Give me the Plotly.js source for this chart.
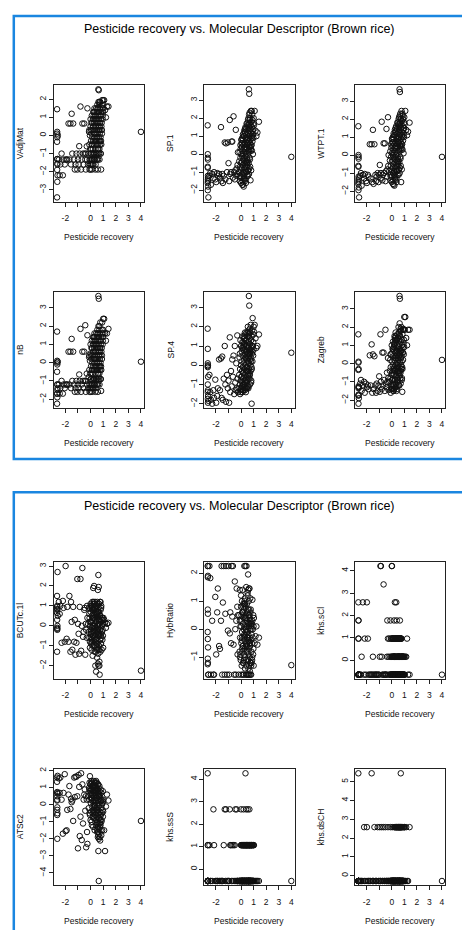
<!DOCTYPE html>
<html><head><meta charset="utf-8">
<script src="https://cdn.plot.ly/plotly-3.0.1.min.js"></script>
<style>html,body{margin:0;padding:0;background:#fff;overflow:hidden}#chart{width:462px;height:930px}</style>
</head><body><div id="chart"></div>
<script>
// Pesticide recovery (shared x for all 12 scatter plots)
const recovery = [
 -2.66,-2.65,-2.65,-2.64,-2.66,-2.65,-2.63,-2.65,-2.64,-2.66,-2.62,-2.65,-2.6,-2.64,
 -2.52,-2.45,-2.4,-2.3,-2.2,-2.15,-2.05,-1.98,-1.9,-1.85,
 -1.75,-1.68,-1.6,-1.55,-1.5,-1.45,-1.38,-1.3,-1.25,-1.2,-1.12,-1.05,-1.0,-0.95,-0.9,-0.86,-0.8,-0.75,-0.7,-0.65,-0.6,-0.55,-0.5,-0.46,-0.42,-0.38,-0.35,-0.3,-0.28,-0.25,
 -0.2,-0.15,-0.12,-0.1,-0.08,-0.05,-0.03,0.0,
 0.0,0.02,0.04,0.05,0.07,0.08,0.1,0.11,
 0.12,0.14,0.15,0.16,0.18,0.19,0.2,0.21,
 0.22,0.23,0.25,0.26,0.27,0.28,0.3,0.31,
 0.32,0.33,0.34,0.35,0.36,0.38,0.39,0.4,
 0.41,0.42,0.43,0.44,0.45,0.46,0.47,0.48,
 0.5,0.51,0.52,0.53,0.54,0.55,0.56,0.57,
 0.58,0.59,0.6,0.61,0.62,0.63,0.64,0.65,
 0.66,0.67,0.68,0.69,0.7,0.71,0.72,0.73,
 0.74,0.75,0.76,0.77,0.78,0.8,0.81,0.82,
 0.84,0.85,0.86,0.88,0.9,0.92,0.94,0.96,
 0.97,0.98,0.99,1.0,0.62,0.65,0.58,0.7,
 1.02,1.08,1.15,1.22,1.3,1.42,
 4.0,
 -0.1,-0.05,0.0,0.05,0.1,0.15,0.2,0.25,
 0.3,0.35,0.4,0.45,0.5,0.55,0.6,0.65,
 0.7,0.75,0.8,0.85,0.9,-0.08,0.03,0.12,
 0.18,0.24,0.33,0.42,0.52,0.61,0.72,0.83,
 0.07,0.28,0.47,0.68,0.88,0.14,0.37,0.57,
 0.02,0.22,0.44,0.63,0.79,0.09,0.31,0.5
];

const VAdjMat = [
 1.45,0.2,0.1,-0.1,-0.35,-1.3,-1.6,-1.9,-2.56,-3.42,-2.2,-1.55,0.0,-1.3,
 -1.33,-2.2,-1.6,-1.0,-2.2,-1.33,-1.6,-1.33,-1.33,-1.33,
 0.66,-1.33,0.66,-1.6,1.2,-1.0,0.66,-1.33,-1.88,-1.6,-1.0,-1.88,-1.33,-1.6,-0.59,-1.0,1.6,-1.88,-1.33,0.66,-1.0,-1.6,0.66,-1.0,-1.33,-1.88,-1.0,-0.6,-1.33,1.5,
 -1.6,-1.0,0.2,-0.5,-1.33,0.0,-0.75,0.5,
 -1.88,-1.33,-0.3,0.3,-1.0,0.1,-0.5,-1.6,
 0.7,-0.1,-1.33,0.3,-0.75,0.9,-1.0,-0.3,
 0.5,-1.6,1.1,-0.5,0.1,-1.33,0.7,-0.1,
 1.3,-1.0,0.3,-0.3,0.9,-1.88,0.5,-0.75,
 1.1,-0.5,0.1,1.5,-1.0,0.7,-0.1,0.3,
 1.3,-1.33,0.9,-0.3,1.7,0.5,-0.75,0.1,
 1.5,-1.0,0.7,1.1,-0.5,1.85,0.3,-0.1,
 0.9,1.3,-0.3,0.5,1.7,-1.33,1.1,0.1,
 1.5,0.7,-0.5,1.85,0.3,1.1,-1.0,0.9,
 -1.88,1.3,0.5,1.7,0.1,1.95,1.5,0.9,
 1.1,1.7,1.3,1.95,2.55,2.5,-1.88,1.85,
 1.5,1.95,1.4,1.0,1.6,1.6,
 0.2,
 0.3,-1.6,0.9,-0.75,1.1,-1.33,0.5,1.3,
 -1.33,0.1,-1.6,0.9,-1.0,-0.5,-1.33,0.3,
 -0.75,-0.3,-1.0,-0.5,0.3,-1.88,-1.6,-1.88,
 -1.6,0.9,-1.33,0.5,-0.1,-0.75,0.5,-0.3,
 0.7,-1.0,-1.33,-1.0,0.7,-0.5,1.1,1.5,
 -1.0,1.3,-0.3,1.3,-0.1,-1.33,1.5,-0.5
];

const SP_1 = [
 1.6,0.0,-0.2,-0.3,-0.7,-0.75,-1.3,-1.4,-1.5,-1.6,-1.8,-2.0,-2.4,-1.2,
 -1.2,-1.05,-1.7,-1.1,-1.35,-1.0,-1.4,-1.55,-1.05,-1.2,
 -1.1,-1.3,1.5,-1.5,-1.1,-1.6,-1.2,0.65,-1.4,0.6,-1.0,0.65,-0.5,-1.5,1.9,-1.1,-1.0,0.7,0.7,-1.3,2.1,-1.0,-1.4,-0.9,1.35,-1.2,-0.8,-1.1,-0.6,0.1,
 -1.0,-0.4,0.1,-1.2,-0.7,-0.2,0.3,-0.9,
 -0.5,0.0,-1.3,0.4,-0.8,-0.1,0.6,-1.1,
 0.2,-0.6,-1.7,0.8,-0.3,-1.0,0.5,-1.8,
 1.0,-0.2,-0.8,0.3,-1.4,0.6,-0.5,0.1,
 1.2,-0.9,0.4,-0.1,0.9,-1.6,0.7,-0.4,
 1.4,0.0,-0.7,1.1,0.3,-1.2,0.8,0.5,
 1.6,-0.3,0.6,1.2,-0.9,1.9,0.2,0.9,
 1.3,2.0,-0.5,0.7,1.5,0.1,2.2,1.0,
 0.4,1.7,2.3,-0.2,1.1,0.6,1.4,2.0,
 0.8,-1.45,1.6,0.3,2.4,1.2,0.5,1.8,
 1.0,2.4,0.2,1.5,0.7,1.3,0.0,1.1,
 1.4,0.9,1.7,2.0,3.6,3.35,-0.9,1.9,
 1.6,2.4,1.3,1.0,1.2,1.8,
 -0.15,
 -1.5,0.5,-1.6,0.8,-1.7,1.1,-1.2,1.3,
 -1.5,1.5,-1.0,-0.5,1.7,-1.2,0.2,-0.8,
 -0.3,0.4,-0.9,0.9,1.9,-1.3,0.6,-1.5,
 1.0,-1.3,0.3,-1.0,-0.4,1.6,-0.7,0.5,
 -0.4,1.2,-0.2,1.0,2.2,0.0,-1.4,0.6,
 0.8,-1.0,1.7,-1.1,0.2,0.9,1.4,-0.6
];

const WTPT_1 = [
 1.6,0.0,-0.1,-0.2,-0.6,-0.65,-1.3,-1.4,-1.5,-1.6,-1.8,-1.95,-2.35,-1.2,
 -1.15,-1.0,-1.7,-1.1,-1.3,-1.05,-1.45,-1.55,-1.1,-1.2,
 0.6,-1.3,0.6,-1.5,1.4,-1.6,0.6,-1.1,-1.45,-1.2,-1.0,-1.5,-1.1,-0.55,-1.3,-1.0,1.85,-1.4,-1.1,0.65,-1.0,0.65,-1.45,-0.9,1.45,-1.2,-0.8,2.1,-0.6,0.0,
 -0.9,-0.3,0.2,-1.1,-0.6,-0.1,0.4,-0.8,
 -0.4,0.1,-1.2,0.5,-0.7,0.0,0.7,-1.0,
 0.3,-0.5,-1.65,0.9,-0.2,-0.9,0.6,-1.7,
 1.1,-0.1,-0.7,0.4,-1.3,0.7,-0.4,0.2,
 1.3,-0.8,0.5,0.0,1.0,-1.5,0.8,-0.3,
 1.45,0.1,-0.6,1.2,0.4,-1.1,0.9,0.6,
 1.7,-0.2,0.7,1.3,-0.8,2.0,0.3,1.0,
 1.4,2.1,-0.4,0.8,1.6,0.2,2.2,1.1,
 0.5,1.8,2.3,-0.1,1.2,0.7,1.5,2.0,
 0.9,-1.5,1.7,0.4,2.45,1.3,0.6,1.9,
 1.1,2.3,0.3,1.6,0.8,1.4,0.1,1.2,
 1.5,1.0,1.8,2.1,3.65,3.5,-0.8,2.0,
 1.7,2.45,1.4,1.1,1.3,1.8,
 -0.1,
 -1.4,0.6,-1.5,0.9,-1.6,1.2,-1.1,1.4,
 -1.4,1.6,-0.9,-0.4,1.8,-1.1,0.3,-0.7,
 -0.2,0.5,-0.8,1.0,2.0,-1.2,0.7,-1.4,
 1.1,-1.2,0.4,-0.9,-0.3,1.7,-0.6,0.6,
 -0.3,1.3,-0.1,1.1,2.2,0.1,-1.3,0.7,
 0.9,-0.9,1.8,-1.0,0.3,1.0,1.5,-0.5
];

const nB = [
 1.7,0.1,0.0,-0.1,-0.5,-1.2,-1.5,-1.7,-1.9,-2.25,-1.4,-1.7,0.05,-1.2,
 -1.2,-1.7,-1.4,-1.0,-1.7,-1.2,-1.4,-1.2,-1.2,-1.2,
 0.6,-1.2,0.6,-1.4,1.3,-1.0,0.6,-1.2,-1.6,-1.4,-1.0,-1.6,-1.2,-1.4,-0.65,-1.0,1.85,-1.6,-1.2,0.6,-1.0,-1.4,0.6,-1.0,2.05,-1.6,-1.0,-0.6,-1.2,1.5,
 -1.4,-0.8,0.3,-0.4,-1.2,0.1,-0.6,0.5,
 -1.6,-1.2,-0.2,0.4,-0.9,0.2,-0.4,-1.4,
 0.8,0.0,-1.2,0.4,-0.6,1.0,-0.9,-0.2,
 0.6,-1.4,1.2,-0.4,0.2,-1.2,0.8,0.0,
 1.4,-0.9,0.4,-0.2,1.0,-1.6,0.6,-0.6,
 1.2,-0.4,0.2,1.6,-0.9,0.8,0.0,0.4,
 1.4,-1.2,1.0,-0.2,1.8,0.6,-0.6,0.2,
 1.6,-0.9,0.8,1.2,-0.4,2.0,0.4,0.0,
 1.0,1.4,-0.2,0.6,1.8,-1.2,1.2,0.2,
 1.6,0.8,-0.4,2.2,0.4,1.2,-0.9,1.0,
 -1.55,1.4,0.6,1.8,0.2,2.2,1.6,1.0,
 1.2,1.8,1.4,2.4,3.65,3.5,-1.6,2.0,
 1.6,2.4,1.6,1.2,1.6,1.85,
 0.05,
 0.4,-1.4,1.0,-0.6,1.2,-1.2,0.6,1.4,
 -1.2,0.2,-1.4,1.0,-0.9,-0.4,-1.2,0.4,
 -0.6,-0.2,-0.9,-0.4,0.4,-1.6,-1.4,-1.6,
 -1.4,1.0,-1.2,0.6,0.0,-0.6,0.6,-0.2,
 0.8,-0.9,-1.2,-0.9,0.8,-0.4,1.2,1.6,
 -0.9,1.4,-0.2,1.4,0.0,-1.2,1.6,-0.4
];

const SP_4 = [
 1.9,0.85,0.1,0.0,-0.05,-0.1,-0.6,-1.0,-1.3,-1.4,-1.6,-1.75,-1.85,-1.95,
 -0.5,-1.4,-1.8,-2.0,-1.3,-1.7,-0.75,-1.95,-1.6,-1.2,
 0.3,-1.3,0.35,-1.7,0.45,-1.8,-0.7,1.0,-1.0,-1.9,-0.5,-1.2,-0.8,-1.95,1.45,-1.4,-0.3,-1.1,0.3,-0.6,0.5,-1.5,1.0,-0.9,-1.3,0.1,-1.2,1.55,-0.7,-1.4,
 -1.2,-0.5,0.4,-1.0,-0.2,1.3,-0.8,0.0,
 -1.4,-0.6,0.2,0.7,-1.1,-0.3,1.5,-0.9,
 0.5,-0.1,-1.3,0.9,-0.7,1.2,-0.4,0.1,
 1.0,-1.0,0.3,-0.5,1.4,-0.2,0.6,-1.2,
 1.6,-0.8,0.8,0.0,1.1,-1.4,0.4,-0.3,
 1.3,-0.6,0.5,1.7,-0.9,0.7,-0.1,0.3,
 1.5,-1.1,0.9,0.2,2.0,0.6,-0.5,0.4,
 1.8,-0.7,1.0,1.2,-0.2,1.6,0.5,0.1,
 0.8,1.4,-0.4,0.6,1.9,-1.0,1.1,0.3,
 1.7,0.7,-0.3,2.1,0.4,1.3,-0.8,0.9,
 -2.0,1.5,0.6,1.8,0.2,2.45,1.0,0.5,
 1.2,1.6,0.8,2.0,3.6,3.1,-1.2,1.7,
 1.75,2.1,1.4,0.9,1.0,1.6,
 0.65,
 0.6,-1.3,1.0,-0.6,1.2,-1.0,0.8,1.4,
 -1.3,0.4,-1.2,1.0,-0.8,-0.3,-1.1,0.6,
 -0.5,0.0,-0.9,-0.2,0.7,-1.5,-1.2,-1.4,
 -1.3,1.1,-1.0,0.7,0.1,-0.6,0.8,-0.1,
 0.9,-0.9,-1.2,-0.7,1.0,-0.4,1.3,1.7,
 -0.8,1.5,-0.1,1.5,0.2,-1.1,1.7,-0.3
];

const Zagreb = [
 1.6,0.1,0.05,-0.3,-0.35,-1.25,-1.3,-1.35,-1.7,-1.75,-1.9,-2.2,-1.3,-1.75,
 -1.1,-0.9,-1.5,-1.2,-1.0,-1.6,-1.1,-1.3,-1.2,-1.4,
 0.45,-1.2,1.05,-1.6,0.5,-1.4,0.4,-1.2,-1.6,-1.1,-1.5,-1.2,-0.7,-1.55,1.6,-1.0,-1.4,0.6,-1.2,0.6,-0.9,-1.5,1.85,-1.1,-1.3,-0.5,-1.0,0.3,-0.8,-1.45,
 -1.0,-0.4,0.2,-0.8,-0.2,0.5,-1.2,-0.6,
 -1.3,-0.5,0.1,0.6,-0.9,-0.1,0.8,-1.1,
 0.4,-0.3,-1.5,0.9,-0.6,1.1,-0.2,0.2,
 1.0,-0.9,0.3,-0.4,1.3,-0.1,0.6,-1.3,
 1.5,-0.7,0.7,0.0,1.2,-1.5,0.4,-0.3,
 1.3,-0.5,0.5,1.6,-0.8,0.8,-0.1,0.3,
 1.4,-1.0,0.9,0.2,2.0,0.6,-0.5,0.4,
 1.7,-0.7,1.1,1.3,-0.2,2.2,0.5,0.1,
 0.8,1.5,-0.4,0.6,1.9,-1.1,1.2,0.3,
 1.8,0.7,-0.3,2.0,0.4,1.3,-0.8,1.0,
 -1.55,1.6,0.6,1.85,0.2,1.9,1.1,0.5,
 1.3,1.85,0.9,2.55,3.7,3.55,-1.2,1.8,
 1.85,2.55,1.4,1.0,1.85,1.85,
 0.2,
 0.5,-1.4,1.0,-0.6,1.2,-1.2,0.7,1.4,
 -1.3,0.3,-1.4,1.0,-0.9,-0.4,-1.2,0.5,
 -0.5,-0.1,-0.9,-0.3,0.6,-1.6,-1.4,-1.5,
 -1.4,1.1,-1.1,0.7,0.0,-0.6,0.7,-0.2,
 0.8,-0.9,-1.2,-0.8,0.9,-0.4,1.3,1.6,
 -0.9,1.5,-0.2,1.5,0.1,-1.2,1.7,-0.4
];

const BCUTc_1l = [
 1.5,1.0,0.95,0.8,0.65,0.3,0.0,-0.15,-0.2,-1.3,2.7,0.85,0.5,-0.1,
 1.2,0.6,1.0,-0.85,1.25,0.9,-0.8,3.0,-0.65,0.95,
 -0.8,1.5,-1.3,1.2,0.2,-1.2,0.95,-0.8,0.3,-1.45,-0.85,2.35,0.1,-0.4,-1.4,0.95,2.35,-1.25,0.0,2.9,-0.55,-0.3,0.8,0.9,-1.45,0.1,-0.2,-0.6,1.0,0.4,
 0.1,-0.3,0.9,-0.6,0.4,-1.1,0.0,-0.2,
 0.7,-0.4,1.0,-0.9,0.2,-1.2,0.5,-0.1,
 -0.7,1.2,0.3,-1.5,0.0,0.8,-0.5,1.9,
 -0.3,0.6,-1.0,1.1,-0.2,2.0,0.4,-0.8,
 0.9,-1.3,0.1,-0.5,1.2,-2.0,0.3,-0.1,
 0.5,-0.7,1.0,-2.3,0.2,-0.4,0.8,-1.1,
 -0.6,0.6,-1.6,1.2,0.0,-0.9,0.4,-0.3,
 1.8,-0.2,0.7,-1.2,0.1,-2.0,0.9,-0.5,
 0.3,-1.0,1.1,-0.4,-1.8,0.6,-2.45,0.0,
 -0.7,1.2,-0.2,0.5,-1.3,0.8,-0.9,0.2,
 0.9,-0.4,0.3,-1.2,0.0,0.4,-0.7,-0.2,
 0.3,-0.5,0.1,-1.1,2.55,1.95,-1.9,-2.0,
 0.4,0.3,0.15,-0.1,0.1,0.15,
 -2.25,
 0.6,-0.8,1.1,-0.3,0.9,-1.0,0.4,1.2,
 -0.6,0.9,-1.3,0.2,-0.9,1.1,-0.1,0.7,
 -1.2,0.5,-0.5,1.0,-0.3,0.2,-0.6,0.8,
 0.4,-0.1,1.1,-0.7,0.6,-1.4,0.3,-0.9,
 -0.4,0.8,-0.2,0.1,-0.6,1.0,-1.0,0.5,
 0.2,-0.5,0.7,-0.3,1.2,-0.8,0.0,-1.2
];

const HybRatio = [
 2.25,1.85,0.7,0.55,-0.1,-0.35,-0.65,-1.05,-1.2,-1.25,-1.62,2.25,-1.62,1.9,
 2.25,1.82,-1.62,0.3,-1.62,-1.62,1.15,-0.9,0.6,1.45,
 -0.6,-0.7,0.3,2.25,-1.62,0.95,2.25,-1.62,0.55,2.25,-1.62,-0.05,2.25,-1.62,-0.15,0.6,-0.5,2.25,0.45,2.25,-0.55,-1.62,1.7,0.0,-1.62,0.3,1.45,0.8,-0.9,0.5,
 -1.62,0.5,-0.8,1.4,-0.3,0.1,-1.1,0.8,
 -1.62,-0.5,0.3,-1.3,1.0,-0.1,0.6,-0.8,
 1.4,-1.62,0.2,-0.6,0.9,-1.2,0.4,-0.3,
 -1.62,0.7,-0.9,2.25,0.1,-0.4,1.1,-1.4,
 0.4,-1.0,2.25,-0.2,0.8,-1.62,0.0,-0.6,
 1.5,-1.3,2.25,0.3,-0.5,0.9,-1.62,-0.1,
 0.6,-0.8,1.2,-1.62,0.2,-0.4,1.95,-1.1,
 -0.2,0.5,-1.62,1.0,-0.7,0.1,-1.3,0.7,
 -1.62,1.45,-0.3,0.4,-1.0,0.0,-0.6,1.1,
 -1.62,0.3,-1.2,0.7,-0.4,-1.62,0.1,-0.8,
 -1.2,0.2,-0.5,-1.1,1.05,-0.3,0.0,-0.9,
 0.5,-0.7,0.1,-1.3,1.45,0.5,-1.4,-1.5,
 0.4,-0.5,-0.25,0.1,-0.55,-0.3,
 -1.28,
 0.3,-0.9,1.2,-0.4,0.6,-1.2,0.0,0.9,
 -0.7,0.4,-1.1,0.1,-0.3,0.7,-0.9,0.2,
 -0.5,0.6,-1.3,-0.2,0.3,-1.0,0.5,-0.6,
 0.8,-0.2,0.5,-0.8,1.3,-0.4,-1.2,0.0,
 -0.3,1.0,-0.6,0.2,-1.0,0.6,-0.1,1.4,
 0.1,-1.1,0.4,-0.5,0.2,-0.7,0.9,-0.3
];

const khs_sCl = [
 2.59,1.78,1.78,0.97,0.97,-0.64,-0.64,-0.64,-0.64,-0.64,-0.64,-0.64,-0.64,-0.64,
 -0.64,-0.64,0.16,2.59,-0.64,0.97,-0.64,2.59,0.97,-0.64,
 -0.64,-0.64,-0.64,-0.64,0.16,-0.64,-0.64,-0.64,-0.64,-0.64,-0.64,-0.64,-0.64,0.16,4.21,4.21,0.16,-0.64,-0.64,3.39,-0.64,-0.64,-0.64,-0.64,-0.64,0.16,1.78,0.97,-0.64,0.16,
 0.97,-0.64,0.16,1.78,-0.64,0.97,0.16,4.21,
 -0.64,4.21,0.97,0.16,-0.64,0.97,0.16,-0.64,
 0.97,-0.64,0.16,0.97,-0.64,1.78,0.16,0.97,
 -0.64,0.16,2.59,0.97,-0.64,0.16,0.97,-0.64,
 0.16,0.97,-0.64,0.16,2.59,0.97,-0.64,1.78,
 0.97,0.16,-0.64,0.97,0.16,-0.64,0.97,0.16,
 -0.64,0.97,0.16,-0.64,0.97,0.16,-0.64,0.97,
 0.16,-0.64,0.97,0.16,-0.64,0.97,0.16,1.78,
 0.97,-0.64,0.16,0.97,-0.64,0.16,0.97,-0.64,
 0.16,0.97,-0.64,0.16,0.97,-0.64,0.16,-0.64,
 0.16,-0.64,0.16,-0.64,0.16,-0.64,0.16,-0.64,
 0.16,-0.64,0.16,-0.64,0.97,0.97,-0.64,0.97,
 -0.64,0.16,0.16,0.97,-0.64,-0.64,
 -0.64,
 -0.64,0.97,0.16,-0.64,0.97,-0.64,0.16,-0.64,
 0.97,-0.64,0.16,-0.64,0.97,-0.64,0.16,-0.64,
 0.97,-0.64,0.16,-0.64,0.16,-0.64,-0.64,0.16,
 -0.64,0.16,0.97,-0.64,0.16,-0.64,-0.64,0.16,
 -0.64,-0.64,0.97,-0.64,-0.64,0.16,-0.64,0.97,
 -0.64,0.16,-0.64,0.16,-0.64,0.97,-0.64,0.16
];

const ATSc2 = [
 1.35,0.75,0.7,0.3,0.25,-0.3,-0.5,-0.6,-2.0,1.6,1.7,0.5,0.65,-0.15,
 1.55,0.7,1.6,0.3,-1.7,0.7,1.8,-1.55,-1.5,-0.3,
 0.6,1.1,-0.25,0.35,0.15,0.25,-0.95,1.6,0.45,1.65,1.65,0.5,-2.56,1.75,1.05,-1.84,-0.7,1.85,-2.07,1.2,-1.1,0.3,0.6,0.9,-0.35,0.5,-2.5,0.3,-1.6,-2.3,
 0.5,-0.2,1.0,0.3,-0.5,1.68,0.8,-0.9,
 1.2,0.1,-0.4,0.7,1.4,-1.0,0.4,0.9,
 -0.1,1.3,0.6,-0.7,1.1,0.2,-1.3,0.8,
 1.0,-0.3,0.5,1.4,-0.8,0.3,1.2,-0.1,
 0.7,-1.5,1.1,0.0,0.9,-0.6,1.3,0.4,
 -0.4,0.8,-1.2,1.0,0.2,-0.9,0.6,-0.2,
 1.3,-0.7,0.4,-1.6,0.9,-0.3,0.1,-1.1,
 0.7,-1.3,-0.5,1.2,-1.8,0.3,-1.4,-0.8,
 -2.0,0.5,-1.1,0.0,-1.7,0.8,-0.6,-1.3,
 -0.4,0.6,-2.1,-0.9,0.2,-1.5,0.9,-0.6,
 -0.2,0.7,-1.0,0.3,-0.5,-1.5,0.1,-0.3,
 0.8,-0.7,0.2,-0.4,-2.72,-4.48,-1.9,0.5,
 0.3,-1.5,-2.72,-0.1,0.6,0.25,
 -0.95,
 0.9,-0.6,1.2,0.4,-1.2,0.6,1.1,-0.4,
 0.2,1.3,-0.8,0.7,-0.3,1.0,-1.6,0.5,
 1.1,-1.1,0.3,-1.8,0.0,1.3,0.9,0.4,
 -0.5,1.0,-0.2,0.8,-1.0,0.6,-1.9,0.2,
 1.3,0.0,0.9,-0.8,-0.9,1.1,-0.4,1.2,
 0.6,-0.7,1.4,-0.1,-1.2,0.3,0.8,-1.4
];

const khs_ssS = [
 4.26,1.07,1.07,-0.52,-0.52,-0.52,-0.52,-0.52,-0.52,-0.52,-0.52,-0.52,-0.52,-0.52,
 1.07,-0.52,-0.52,-0.52,2.66,1.07,-0.52,-0.52,-0.52,-0.52,
 -0.52,-0.52,-0.52,-0.52,-0.52,-0.52,1.07,2.66,-0.52,2.66,-0.52,-0.52,-0.52,-0.52,2.66,1.07,1.07,-0.52,1.07,-0.52,1.07,-0.52,1.07,2.66,-0.52,-0.52,2.66,-0.52,-0.52,-0.52,
 -0.52,-0.52,-0.52,-0.52,-0.52,-0.52,-0.52,2.66,
 1.07,-0.52,-0.52,1.07,-0.52,-0.52,1.07,-0.52,
 -0.52,1.07,-0.52,-0.52,1.07,-0.52,2.66,-0.52,
 1.07,-0.52,-0.52,1.07,-0.52,-0.52,1.07,-0.52,
 -0.52,1.07,-0.52,4.26,-0.52,1.07,-0.52,2.66,
 -0.52,1.07,-0.52,-0.52,1.07,-0.52,-0.52,1.07,
 -0.52,-0.52,1.07,2.66,-0.52,1.07,-0.52,-0.52,
 1.07,-0.52,-0.52,1.07,-0.52,-0.52,1.07,-0.52,
 2.66,-0.52,1.07,-0.52,-0.52,1.07,-0.52,-0.52,
 1.07,-0.52,-0.52,1.07,-0.52,-0.52,1.07,-0.52,
 -0.52,1.07,-0.52,-0.52,1.07,-0.52,-0.52,1.07,
 -0.52,-0.52,1.07,-0.52,-0.52,1.07,-0.52,-0.52,
 1.07,-0.52,-0.52,-0.52,-0.52,-0.52,
 -0.52,
 -0.52,-0.52,1.07,-0.52,-0.52,1.07,-0.52,-0.52,
 1.07,-0.52,-0.52,-0.52,1.07,-0.52,-0.52,-0.52,
 1.07,-0.52,-0.52,1.07,-0.52,-0.52,-0.52,-0.52,
 -0.52,-0.52,-0.52,1.07,-0.52,-0.52,-0.52,1.07,
 -0.52,-0.52,-0.52,-0.52,-0.52,-0.52,1.07,-0.52,
 -0.52,1.07,-0.52,-0.52,-0.52,-0.52,-0.52,-0.52
];

const khs_dsCH = [
 5.44,-0.28,-0.28,-0.28,-0.28,-0.28,-0.28,-0.28,-0.28,-0.28,-0.28,-0.28,-0.28,-0.28,
 -0.28,-0.28,-0.28,-0.28,2.58,-0.28,-0.28,2.58,-0.28,-0.28,
 -0.28,-0.28,5.44,-0.28,-0.28,-0.28,2.58,-0.28,-0.28,-0.28,2.58,-0.28,-0.28,2.58,-0.28,-0.28,2.58,-0.28,-0.28,2.58,-0.28,-0.28,2.58,-0.28,-0.28,-0.28,-0.28,2.58,-0.28,-0.28,
 -0.28,-0.28,-0.28,2.58,-0.28,-0.28,-0.28,-0.28,
 -0.28,-0.28,2.58,-0.28,-0.28,-0.28,-0.28,-0.28,
 -0.28,-0.28,-0.28,-0.28,2.58,-0.28,-0.28,-0.28,
 -0.28,-0.28,2.58,-0.28,-0.28,-0.28,2.58,-0.28,
 -0.28,2.58,-0.28,-0.28,-0.28,2.58,-0.28,-0.28,
 2.58,-0.28,-0.28,2.58,-0.28,-0.28,-0.28,2.58,
 -0.28,-0.28,2.58,-0.28,-0.28,2.58,-0.28,-0.28,
 2.58,-0.28,-0.28,-0.28,2.58,-0.28,-0.28,2.58,
 -0.28,2.58,-0.28,-0.28,2.58,-0.28,5.44,-0.28,
 2.58,-0.28,-0.28,2.58,-0.28,-0.28,2.58,-0.28,
 -0.28,2.58,-0.28,-0.28,2.58,-0.28,-0.28,-0.28,
 2.58,-0.28,-0.28,2.58,-0.28,-0.28,-0.28,-0.28,
 2.58,-0.28,2.58,-0.28,-0.28,2.58,
 -0.28,
 -0.28,-0.28,-0.28,-0.28,-0.28,-0.28,-0.28,2.58,
 -0.28,-0.28,2.58,-0.28,-0.28,-0.28,2.58,-0.28,
 -0.28,2.58,-0.28,-0.28,-0.28,-0.28,-0.28,-0.28,
 -0.28,-0.28,-0.28,-0.28,2.58,-0.28,-0.28,-0.28,
 -0.28,-0.28,-0.28,2.58,-0.28,-0.28,-0.28,-0.28,
 -0.28,-0.28,-0.28,-0.28,-0.28,-0.28,-0.28,-0.28
];

const descriptorNames = ['VAdjMat','SP.1','WTPT.1','nB','SP.4','Zagreb','BCUTc.1l','HybRatio','khs.sCl','ATSc2','khs.ssS','khs.dsCH'];
const descriptorValues = [VAdjMat,SP_1,WTPT_1,nB,SP_4,Zagreb,BCUTc_1l,HybRatio,khs_sCl,ATSc2,khs_ssS,khs_dsCH];
const xLabel = 'Pesticide recovery';
const panelTitle = 'Pesticide recovery vs. Molecular Descriptor (Brown rice)';
const xTickVals = [-2,-1,0,1,2,3,4];
const xTickText = ['-2','','0','1','2','3','4'];

descriptorValues.forEach((a,i)=>{ if(a.length!==recovery.length) throw new Error(descriptorNames[i]+' length '+a.length+' vs '+recovery.length); });

const W = 462, H = 930;
const FONT = 'Liberation Sans, Arial, Helvetica, sans-serif';
const colsPx = [[53.7,144.3],[204.3,294.7],[355,445.3]];
const rowsPx = [[85,201.7],[291.7,408],[561.7,679],[769,885.3]];
const px = p => p/W, py = p => 1 - p/H;

function padRange(a){ const mn=Math.min(...a), mx=Math.max(...a), d=mx-mn; return [mn-0.04*d, mx+0.04*d]; }
const xRange = padRange(recovery);

const data = [], layout = {
  width: W, height: H, margin:{l:0,r:0,t:0,b:0}, paper_bgcolor:'#fff', plot_bgcolor:'#fff',
  showlegend:false, font:{family:FONT, color:'#000'}, annotations:[], shapes:[]
};

descriptorValues.forEach((yv,i)=>{
  const n = i+1, sfx = n===1?'':String(n);
  const panel = i<6?0:1, r = Math.floor((i%6)/3) + panel*2, c = i%3;
  const [x0,x1] = colsPx[c], [y0,y1] = rowsPx[r];
  data.push({type:'scatter', mode:'markers', x:recovery, y:yv, xaxis:'x'+sfx, yaxis:'y'+sfx,
    marker:{symbol:'circle-open', size:5.5, color:'#111', line:{width:1, color:'#111'}}, hoverinfo:'skip'});
  const common = {showgrid:false, zeroline:false, showline:true, mirror:true, linecolor:'#222', linewidth:1,
    ticks:'outside', ticklen:4, tickwidth:1, tickcolor:'#222', tickfont:{family:FONT, size:8.5, color:'#111'}};
  layout['xaxis'+sfx] = Object.assign({}, common, {domain:[px(x0),px(x1)], anchor:'y'+sfx, range:xRange,
    tickmode:'array', tickvals:xTickVals, ticktext:xTickText, ticklabelstandoff:4});
  const yr = padRange(yv);
  layout['yaxis'+sfx] = Object.assign({}, common, {domain:[py(y1),py(y0)], anchor:'x'+sfx, range:yr,
    tickmode:'linear', tick0:0, dtick:1, tickangle:-90, ticklabelstandoff:-1});
  layout.annotations.push({xref:'paper', yref:'paper', x:px((x0+x1)/2), y:py(y1+35.3), text:xLabel, showarrow:false,
    xanchor:'center', yanchor:'middle', font:{family:FONT, size:8.5, color:'#111'}});
  layout.annotations.push({xref:'paper', yref:'paper', x:px(x0-33.7), y:py((y0+y1)/2), text:descriptorNames[i], showarrow:false,
    textangle:-90, xanchor:'center', yanchor:'middle', font:{family:FONT, size:8.5, color:'#111'}});
});

[15.9, 492.3].forEach(t=>{
  layout.annotations.push({xref:'paper', yref:'paper', x:px(240), y:py(t+13.3), text:panelTitle, showarrow:false,
    xanchor:'center', yanchor:'middle', font:{family:FONT, size:12.5, color:'#000'}});
});
layout.shapes.push({type:'rect', xref:'paper', yref:'paper', x0:px(13.8), x1:px(480), y0:py(15.9), y1:py(459), line:{color:'#1a86e0', width:2.5}, fillcolor:'rgba(0,0,0,0)'});
layout.shapes.push({type:'rect', xref:'paper', yref:'paper', x0:px(13.8), x1:px(480), y0:py(492.3), y1:py(1000), line:{color:'#1a86e0', width:2.5}, fillcolor:'rgba(0,0,0,0)'});

Plotly.newPlot('chart', data, layout, {staticPlot:true, displayModeBar:false});
</script>
</body></html>
